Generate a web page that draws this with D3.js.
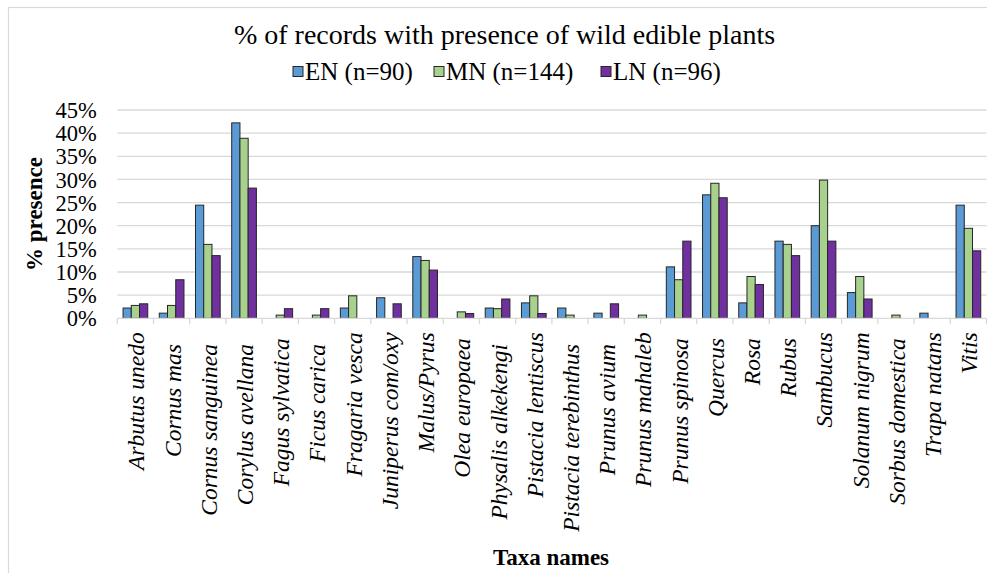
<!DOCTYPE html>
<html>
<head>
<meta charset="utf-8">
<script src="https://cdn.jsdelivr.net/npm/d3@7"></script>
<style>
  html, body { margin: 0; padding: 0; background: #fff; }
  svg { display: block; }
</style>
</head>
<body>
<script>
// ---- data ----
const title = "% of records with presence of wild edible plants";
const categories = [
  "Arbutus unedo", "Cornus mas  ", "Cornus sanguinea  ", "Corylus avellana  ",
  "Fagus sylvatica ", "Ficus carica  ", "Fragaria vesca", "Juniperus com/oxy",
  "Malus/Pyrus", "Olea europaea ", "Physalis alkekengi  ", "Pistacia lentiscus",
  "Pistacia terebinthus  ", "Prunus avium  ", "Prunus mahaleb", "Prunus spinosa ",
  "Quercus ", "Rosa ", "Rubus ", "Sambucus", "Solanum nigrum", "Sorbus domestica ",
  "Trapa natans", "Vitis"
];
const seriesNames = ["EN (n=90)", "MN (n=144)", "LN (n=96)"];
const valuesEN = [2.22, 1.11, 24.44, 42.22, 0, 0, 2.22, 4.44, 13.33, 0, 2.22, 3.33,
                  2.22, 1.11, 0, 11.11, 26.67, 3.33, 16.67, 20.00, 5.56, 0, 1.11, 24.44];
const valuesMN = [2.78, 2.78, 15.97, 38.89, 0.69, 0.69, 4.86, 0, 12.50, 1.39, 2.08, 4.86,
                  0.69, 0, 0.69, 8.33, 29.17, 9.03, 15.97, 29.86, 9.03, 0.69, 0, 19.44];
const valuesLN = [3.13, 8.33, 13.54, 28.13, 2.08, 2.08, 0, 3.13, 10.42, 1.04, 4.17, 1.04,
                  0, 3.13, 0, 16.67, 26.04, 7.29, 13.54, 16.67, 4.17, 0, 0, 14.58];
const yTicks = [0, 5, 10, 15, 20, 25, 30, 35, 40, 45];
const yAxisTitle = "% presence";
const xAxisTitle = "Taxa names";
const colors = ["#5B9BD5", "#A9D18E", "#7030A0"];

const FONT = "'Liberation Serif', 'Times New Roman', serif";

// ---- layout ----
const W = 987, H = 573;
const svg = d3.select("body").append("svg").attr("width", W).attr("height", H);

// chart frame
svg.append("rect").attr("x", 8.5).attr("y", 7.5).attr("width", 1010).attr("height", 600)
  .attr("fill", "none").attr("stroke", "#d9d9d9").attr("stroke-width", 1.2);

const plotL = 117.3, plotR = 986.5, plotT = 110, plotB = 318.3;

const x0 = d3.scaleBand().domain(d3.range(categories.length)).range([plotL, plotR]).padding(0);
const x1 = d3.scaleBand().domain(d3.range(seriesNames.length)).range([0, x0.bandwidth()])
  .paddingInner(0).paddingOuter(0.7);
const y = d3.scaleLinear().domain([0, 45]).range([plotB, plotT]);

// gridlines
svg.append("g").selectAll("line").data(yTicks.filter(t => t > 0)).join("line")
  .attr("x1", plotL).attr("x2", plotR)
  .attr("y1", d => y(d)).attr("y2", d => y(d))
  .attr("stroke", "#d9d9d9").attr("stroke-width", 1.3);

// y axis labels
const yAxis = d3.axisLeft(y).tickValues(yTicks).tickFormat(d => d + "%").tickSize(0).tickPadding(0);
const yg = svg.append("g").attr("transform", `translate(${plotL - 20.6},0)`).call(yAxis);
yg.select(".domain").remove();
yg.selectAll("text").attr("font-size", 22.5).style("font-family", FONT)
  .attr("fill", "#000").attr("dy", "0.34em");

// bars
const allSeries = [valuesEN, valuesMN, valuesLN];
const groups = svg.append("g").selectAll("g").data(allSeries).join("g")
  .attr("fill", (d, i) => colors[i]);
groups.each(function (vals, si) {
  d3.select(this).selectAll("rect")
    .data(vals.map((v, ci) => ({ v, ci })).filter(d => d.v > 0))
    .join("rect")
    .attr("x", d => x0(d.ci) + x1(si))
    .attr("width", x1.bandwidth())
    .attr("y", d => y(d.v))
    .attr("height", d => y(0) - y(d.v))
    .attr("stroke", "#262626").attr("stroke-width", 1);
});

// x axis (baseline + ticks at category boundaries)
const xAxisG = svg.append("g");
xAxisG.append("line").attr("x1", plotL).attr("x2", plotR).attr("y1", plotB).attr("y2", plotB)
  .attr("stroke", "#d9d9d9").attr("stroke-width", 1.3);
xAxisG.selectAll("line.tk").data(d3.range(categories.length + 1)).join("line").attr("class", "tk")
  .attr("x1", d => plotL + d * x0.step()).attr("x2", d => plotL + d * x0.step())
  .attr("y1", plotB).attr("y2", plotB + 6)
  .attr("stroke", "#d9d9d9").attr("stroke-width", 1.3);

// x labels (rotated)
xAxisG.selectAll("text.cat").data(categories).join("text").attr("class", "cat")
  .attr("transform", (d, i) => `translate(${x0(i) + x0.bandwidth() / 2},${plotB + 14}) rotate(-90)`)
  .attr("text-anchor", "end").attr("dy", "0.38em")
  .attr("font-size", 23.5).attr("font-style", "italic")
  .style("font-family", FONT)
  .style("white-space", "pre")
  .attr("fill", "#000")
  .text(d => d);

// title
svg.append("text").attr("x", 504.5).attr("y", 43.5).attr("text-anchor", "middle")
  .attr("font-size", 28).style("font-family", FONT).attr("fill", "#000").text(title);

// legend
const legendItems = [
  { name: seriesNames[0], x: 293 },
  { name: seriesNames[1], x: 434 },
  { name: seriesNames[2], x: 601 }
];
const lg = svg.append("g");
legendItems.forEach((it, i) => {
  lg.append("rect").attr("x", it.x).attr("y", 66.5).attr("width", 10).attr("height", 10)
    .attr("fill", colors[i]).attr("stroke", "#262626").attr("stroke-width", 1);
  lg.append("text").attr("x", it.x + 12).attr("y", 80).attr("font-size", 25)
    .style("font-family", FONT).attr("fill", "#000").text(it.name);
});

// axis titles
svg.append("text").attr("transform", `translate(42,214) rotate(-90)`)
  .attr("text-anchor", "middle").attr("font-size", 23).attr("font-weight", "bold")
  .style("font-family", FONT).attr("fill", "#000").text(yAxisTitle);
svg.append("text").attr("x", 551).attr("y", 565).attr("text-anchor", "middle")
  .attr("font-size", 23).attr("font-weight", "bold")
  .style("font-family", FONT).attr("fill", "#000").text(xAxisTitle);
</script>
</body>
</html>
